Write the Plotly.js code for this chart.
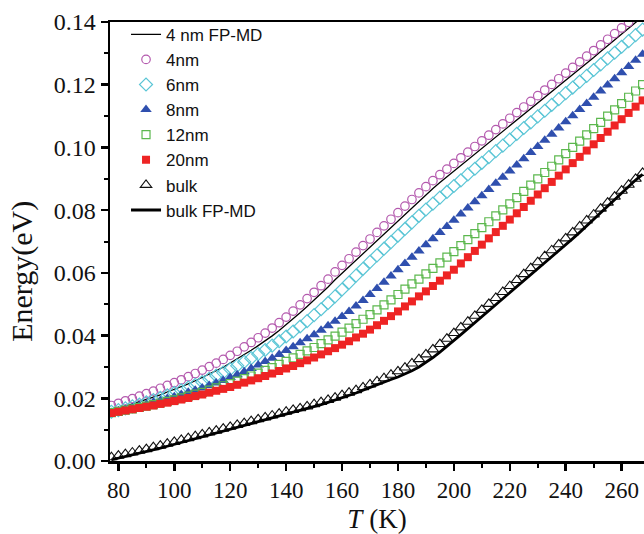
<!DOCTYPE html>
<html>
<head>
<meta charset="utf-8">
<script src="https://cdn.plot.ly/plotly-3.0.1.min.js"></script>
<style>html,body{margin:0;padding:0;background:#fff;}#chart{width:644px;height:534px;}</style>
</head>
<body>
<div id="chart"></div>
<script>
const temperature = [77.5,80,82.5,85,87.5,90,92.5,95,97.5,100,102.5,105,107.5,110,112.5,115,117.5,120,122.5,125,127.5,130,132.5,135,137.5,140,142.5,145,147.5,150,152.5,155,157.5,160,162.5,165,167.5,170,172.5,175,177.5,180,182.5,185,187.5,190,192.5,195,197.5,200,202.5,205,207.5,210,212.5,215,217.5,220,222.5,225,227.5,230,232.5,235,237.5,240,242.5,245,247.5,250,252.5,255,257.5,260,262.5,265,267.5];

const nm4 = [0.0177,0.0184,0.0192,0.0199,0.0207,0.0215,0.0223,0.0232,0.0241,0.0250,0.0259,0.0269,0.0279,0.0290,0.0301,0.0312,0.0324,0.0337,0.0350,0.0364,0.0378,0.0393,0.0408,0.0424,0.0441,0.0459,0.0478,0.0498,0.0518,0.0538,0.0559,0.0580,0.0603,0.0624,0.0645,0.0666,0.0687,0.0708,0.0729,0.0750,0.0771,0.0792,0.0813,0.0834,0.0855,0.0875,0.0894,0.0913,0.0931,0.0949,0.0967,0.0985,0.1003,0.1021,0.1039,0.1057,0.1075,0.1093,0.1111,0.1129,0.1147,0.1165,0.1183,0.1201,0.1219,0.1237,0.1255,0.1273,0.1291,0.1309,0.1327,0.1345,0.1363,0.1381,0.1399,0.1417,0.1435];

const nm4FPMD = [0.0162,0.0168,0.0175,0.0182,0.0189,0.0196,0.0203,0.0211,0.0220,0.0228,0.0237,0.0246,0.0256,0.0266,0.0277,0.0288,0.0299,0.0312,0.0325,0.0339,0.0353,0.0368,0.0383,0.0399,0.0416,0.0434,0.0453,0.0473,0.0493,0.0513,0.0534,0.0555,0.0578,0.0599,0.0620,0.0641,0.0662,0.0683,0.0704,0.0725,0.0746,0.0767,0.0788,0.0809,0.0830,0.0850,0.0869,0.0888,0.0906,0.0924,0.0942,0.0960,0.0978,0.0996,0.1014,0.1032,0.1050,0.1068,0.1086,0.1104,0.1122,0.1140,0.1158,0.1177,0.1195,0.1213,0.1232,0.1250,0.1269,0.1287,0.1306,0.1324,0.1343,0.1361,0.1380,0.1398,0.1417];

const nm6 = [0.0157,0.0162,0.0168,0.0174,0.0180,0.0187,0.0194,0.0201,0.0209,0.0217,0.0225,0.0234,0.0243,0.0252,0.0262,0.0272,0.0282,0.0293,0.0304,0.0316,0.0328,0.0341,0.0354,0.0368,0.0382,0.0397,0.0413,0.0429,0.0446,0.0465,0.0484,0.0504,0.0525,0.0547,0.0569,0.0591,0.0613,0.0635,0.0656,0.0677,0.0698,0.0719,0.0740,0.0761,0.0782,0.0802,0.0821,0.0840,0.0858,0.0877,0.0895,0.0914,0.0932,0.0951,0.0969,0.0988,0.1006,0.1025,0.1043,0.1062,0.1080,0.1099,0.1117,0.1136,0.1154,0.1173,0.1191,0.1210,0.1228,0.1247,0.1265,0.1284,0.1302,0.1321,0.1339,0.1358,0.1376];

const nm8 = [0.0155,0.0160,0.0165,0.0170,0.0176,0.0181,0.0187,0.0193,0.0199,0.0205,0.0212,0.0219,0.0226,0.0233,0.0241,0.0249,0.0257,0.0266,0.0275,0.0285,0.0295,0.0306,0.0317,0.0328,0.0340,0.0352,0.0364,0.0377,0.0390,0.0403,0.0417,0.0431,0.0446,0.0461,0.0477,0.0494,0.0512,0.0531,0.0550,0.0570,0.0590,0.0610,0.0630,0.0650,0.0670,0.0690,0.0709,0.0729,0.0748,0.0768,0.0788,0.0807,0.0827,0.0846,0.0866,0.0886,0.0905,0.0925,0.0944,0.0964,0.0984,0.1003,0.1023,0.1042,0.1062,0.1082,0.1101,0.1121,0.1140,0.1160,0.1180,0.1199,0.1219,0.1238,0.1258,0.1278,0.1297];

const nm12 = [0.0154,0.0158,0.0162,0.0166,0.0171,0.0175,0.0180,0.0185,0.0190,0.0195,0.0201,0.0207,0.0213,0.0219,0.0226,0.0233,0.0240,0.0247,0.0255,0.0263,0.0271,0.0280,0.0289,0.0298,0.0308,0.0318,0.0329,0.0340,0.0351,0.0362,0.0374,0.0386,0.0398,0.0411,0.0424,0.0438,0.0452,0.0467,0.0482,0.0498,0.0514,0.0531,0.0548,0.0565,0.0580,0.0597,0.0614,0.0632,0.0650,0.0668,0.0687,0.0706,0.0725,0.0744,0.0763,0.0782,0.0801,0.0820,0.0840,0.0860,0.0880,0.0900,0.0920,0.0940,0.0960,0.0980,0.1000,0.1020,0.1040,0.1060,0.1080,0.1100,0.1120,0.1140,0.1160,0.1180,0.1200];

const nm20 = [0.0153,0.0157,0.0161,0.0165,0.0169,0.0173,0.0177,0.0182,0.0186,0.0191,0.0196,0.0201,0.0207,0.0212,0.0218,0.0224,0.0230,0.0236,0.0243,0.0250,0.0257,0.0264,0.0271,0.0279,0.0287,0.0295,0.0303,0.0312,0.0321,0.0330,0.0340,0.0350,0.0360,0.0371,0.0382,0.0394,0.0406,0.0419,0.0433,0.0447,0.0462,0.0477,0.0493,0.0509,0.0525,0.0541,0.0558,0.0575,0.0592,0.0610,0.0630,0.0650,0.0670,0.0690,0.0710,0.0730,0.0750,0.0770,0.0790,0.0810,0.0830,0.0850,0.0870,0.0890,0.0910,0.0930,0.0950,0.0970,0.0990,0.1010,0.1030,0.1050,0.1070,0.1090,0.1110,0.1130,0.1150];

const bulk = [0.0012,0.0017,0.0022,0.0027,0.0033,0.0038,0.0044,0.0049,0.0055,0.0061,0.0067,0.0073,0.0079,0.0085,0.0091,0.0097,0.0103,0.0109,0.0115,0.0121,0.0127,0.0133,0.0139,0.0145,0.0151,0.0157,0.0163,0.0168,0.0174,0.0181,0.0188,0.0195,0.0202,0.0210,0.0218,0.0226,0.0235,0.0244,0.0254,0.0264,0.0275,0.0286,0.0298,0.0311,0.0325,0.0340,0.0356,0.0373,0.0390,0.0408,0.0426,0.0444,0.0463,0.0482,0.0501,0.0520,0.0539,0.0558,0.0577,0.0596,0.0615,0.0634,0.0653,0.0672,0.0691,0.0710,0.0729,0.0748,0.0767,0.0786,0.0805,0.0824,0.0843,0.0862,0.0881,0.0900,0.0919];

const bulkFPMD = [0.0004,0.0009,0.0014,0.0019,0.0025,0.0030,0.0036,0.0041,0.0047,0.0053,0.0059,0.0065,0.0071,0.0077,0.0083,0.0089,0.0095,0.0101,0.0107,0.0113,0.0119,0.0125,0.0131,0.0137,0.0143,0.0149,0.0155,0.0160,0.0166,0.0173,0.0180,0.0187,0.0194,0.0202,0.0210,0.0217,0.0226,0.0235,0.0244,0.0252,0.0260,0.0268,0.0277,0.0288,0.0300,0.0314,0.0330,0.0347,0.0365,0.0384,0.0403,0.0422,0.0441,0.0460,0.0479,0.0498,0.0517,0.0536,0.0555,0.0574,0.0593,0.0612,0.0631,0.0650,0.0669,0.0689,0.0709,0.0729,0.0750,0.0771,0.0792,0.0813,0.0834,0.0855,0.0875,0.0896,0.0914];

const traces = [
  {x: temperature, y: nm4FPMD, name: '4 nm FP-MD', mode: 'lines', line: {color: '#000000', width: 1.3}},
  {x: temperature, y: nm4, name: '4nm', mode: 'markers', marker: {symbol: 'circle-open', size: 8.5, color: '#b45aae', line: {width: 1.2}}},
  {x: temperature, y: nm6, name: '6nm', mode: 'markers', marker: {symbol: 'diamond-open', size: 10, color: '#5cc6d6', line: {width: 1.2}}},
  {x: temperature, y: nm8, name: '8nm', mode: 'markers', marker: {symbol: 'triangle-up', size: 10, color: '#2f4fae'}},
  {x: temperature, y: nm12, name: '12nm', mode: 'markers', marker: {symbol: 'square-open', size: 8, color: '#5cb84e', line: {width: 1.2}}},
  {x: temperature, y: nm20, name: '20nm', mode: 'markers', marker: {symbol: 'square', size: 8, color: '#ee2424'}},
  {x: temperature, y: bulk, name: 'bulk', mode: 'markers', marker: {symbol: 'triangle-up-open', size: 10, color: '#111111', line: {width: 1.1}}},
  {x: temperature, y: bulkFPMD, name: 'bulk FP-MD', mode: 'lines', line: {color: '#000000', width: 2.8}}
];

const serif = 'Liberation Serif, Times New Roman, serif';
const layout = {
  width: 644, height: 534,
  margin: {l: 110, r: 0, t: 22, b: 73},
  paper_bgcolor: '#ffffff', plot_bgcolor: '#ffffff',
  showlegend: true,
  legend: {x: 0.03, y: 1.012, xanchor: 'left', yanchor: 'top', bgcolor: 'rgba(0,0,0,0)',
           font: {family: 'Liberation Sans, Arial, sans-serif', size: 17, color: '#111'}},
  xaxis: {
    range: [77, 268], showgrid: false, zeroline: false, automargin: false,
    showline: true, linecolor: '#000', linewidth: 2.5, mirror: true,
    ticks: 'outside', ticklen: 7, tickwidth: 2.5, tickcolor: '#000',
    tick0: 80, dtick: 20,
    minor: {ticks: 'outside', ticklen: 4, tickwidth: 2, tickcolor: '#000', dtick: 10},
    tickfont: {family: serif, size: 23, color: '#111'},
    title: {text: '<i>T</i> (K)', font: {family: serif, size: 27, color: '#111'}, standoff: 9}
  },
  yaxis: {
    range: [0, 0.14], showgrid: false, zeroline: false, automargin: false,
    showline: true, linecolor: '#000', linewidth: 2.5, mirror: false,
    ticks: 'outside', ticklen: 7, tickwidth: 2.5, tickcolor: '#000',
    tick0: 0, dtick: 0.02, tickformat: '.2f',
    minor: {ticks: 'outside', ticklen: 4, tickwidth: 2, tickcolor: '#000', dtick: 0.01},
    tickfont: {family: serif, size: 24, color: '#111'}
  },
  annotations: [{
    text: 'Energy(eV)', textangle: -90, showarrow: false,
    xref: 'paper', yref: 'paper', x: -0.165, y: 0.433, xanchor: 'center', yanchor: 'middle',
    font: {family: serif, size: 30, color: '#111'}
  }]
};

Plotly.newPlot('chart', traces, layout, {displayModeBar: false, staticPlot: true});
</script>
</body>
</html>
